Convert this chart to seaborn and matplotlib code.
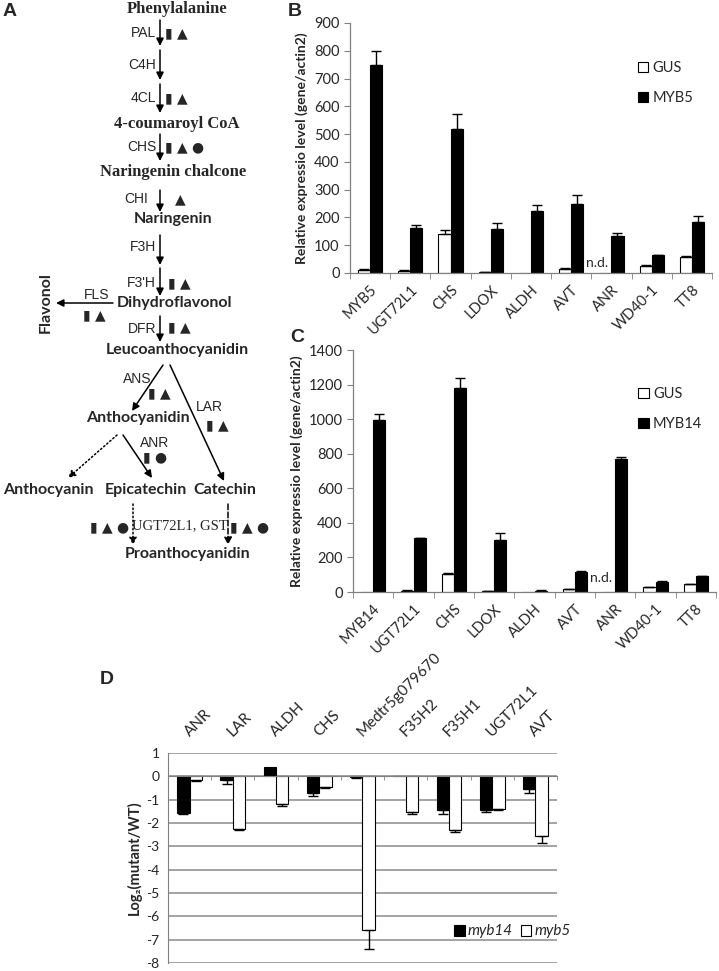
import matplotlib
matplotlib.use('Agg')
import matplotlib.pyplot as plt
import seaborn as sns
import pandas as pd

# panel B: GUS vs MYB5 overexpression
genes_b = ['MYB5', 'UGT72L1', 'CHS', 'LDOX', 'ALDH', 'AVT', 'ANR', 'WD40-1', 'TT8']
gus_b = [10, 8, 140, 3, 0, 15, 0, 25, 57]
gus_b_err = [3, 2, 15, 1, 0, 3, 0, 3, 5]
myb5_b = [750, 163, 517, 160, 222, 250, 133, 63, 185]
myb5_b_err = [50, 10, 56, 20, 22, 30, 12, 2, 20]

# panel C: GUS vs MYB14 overexpression
genes_c = ['MYB14', 'UGT72L1', 'CHS', 'LDOX', 'ALDH', 'AVT', 'ANR', 'WD40-1', 'TT8']
gus_c = [0, 8, 105, 3, 0, 18, 0, 28, 45]
gus_c_err = [0, 1, 3, 1, 0, 2, 0, 3, 3]
myb14_c = [993, 310, 1183, 300, 8, 117, 768, 58, 90]
myb14_c_err = [38, 5, 57, 43, 2, 4, 12, 3, 5]

# panel D: log2(mutant/WT)
genes_d = ['ANR', 'LAR', 'ALDH', 'CHS', 'Medtr5g079670', 'F35H2', 'F35H1', 'UGT72L1', 'AVT']
myb14_d = [-1.57, -0.17, 0.38, -0.70, -0.05, 0.03, -1.43, -1.45, -0.55]
myb14_d_err = [0.06, 0.18, 0, 0.13, 0.02, 0, 0.17, 0.07, 0.17]
myb5_d = [-0.17, -2.25, -1.20, -0.45, -6.60, -1.52, -2.28, -1.40, -2.55]
myb5_d_err = [0.02, 0.05, 0.07, 0.03, 0.80, 0.08, 0.12, 0.05, 0.30]

sns.set_style('white')
plt.rcParams['font.family'] = ['Lato', 'DejaVu Sans']
plt.rcParams['axes.unicode_minus'] = False

GREY = '#808080'


def make_df(genes, names, vals, errs):
    rows = []
    for name, v, e in zip(names, vals, errs):
        for g, vi, ei in zip(genes, v, e):
            rows.append({'gene': g, 'group': name, 'value': vi, 'err': ei})
    return pd.DataFrame(rows)


def add_errors(ax, df, names):
    # one-sided error bars, pointing away from zero
    for cont, name in zip(ax.containers, names):
        sub = df[df['group'] == name]
        for patch, (_, row) in zip(cont.patches, sub.iterrows()):
            if row['err'] == 0:
                continue
            x = patch.get_x() + patch.get_width() / 2
            y = row['value']
            yerr = [[0], [row['err']]] if y >= 0 else [[row['err']], [0]]
            ax.errorbar(x, y, yerr=yerr, fmt='none', ecolor='black',
                        elinewidth=1, capsize=3.5, capthick=1)


def expr_panel(ax, genes, names, vals, errs, ymax, step, leg_anchor, nd_y):
    df = make_df(genes, names, vals, errs)
    sns.barplot(data=df, x='gene', y='value', hue='group', hue_order=names,
                palette={names[0]: 'white', names[1]: 'black'}, width=0.6,
                edgecolor='black', linewidth=0.8, ax=ax, errorbar=None)
    add_errors(ax, df, names)
    ax.set_ylim(0, ymax)
    ax.set_yticks(range(0, ymax + 1, step))
    ax.set_xlim(-0.5, len(genes) - 0.5)
    ax.set_xlabel('')
    ax.set_ylabel('Relative expressio level (gene/actin2)', fontsize=10,
                  fontweight='bold', labelpad=4)
    ax.set_xticks(range(len(genes)))
    ax.set_xticklabels(genes, rotation=45, ha='right', rotation_mode='anchor',
                       fontsize=10.5)
    ax.set_xticks([i - 0.5 for i in range(len(genes) + 1)], minor=True)
    ax.tick_params(axis='x', which='major', length=0, pad=7)
    ax.tick_params(axis='x', which='minor', length=4, color=GREY, direction='out', bottom=True)
    ax.tick_params(axis='y', length=4, color=GREY, direction='out', left=True, labelsize=10.5)
    for s in ['top', 'right']:
        ax.spines[s].set_visible(False)
    for s in ['left', 'bottom']:
        ax.spines[s].set_color(GREY)
        ax.spines[s].set_linewidth(0.9)
    ax.text(genes.index('ANR') - 0.36, nd_y, 'n.d.', ha='center', va='center', fontsize=10)
    leg = ax.legend(loc='upper left', bbox_to_anchor=leg_anchor, frameon=False,
                    fontsize=10.5, handlelength=0.7, handleheight=0.7,
                    handletextpad=0.3, labelspacing=1.1)
    for h in leg.legend_handles:
        h.set_edgecolor('black')


fig = plt.figure(figsize=(7.19, 9.71), dpi=100)

# ---------- panel A: pathway diagram in pixel coordinates ----------
axa = fig.add_axes([0, 0, 1, 1])
axa.set_xlim(0, 719)
axa.set_ylim(971, 0)
axa.axis('off')

serif_b = dict(family='Liberation Serif', fontweight='bold', fontsize=12, ha='center', va='center')
sans_b = dict(family=['Lato', 'DejaVu Sans'], fontweight='bold', fontsize=11.5, ha='center', va='center')
enz = dict(family='Liberation Sans', fontsize=10, ha='right', va='center')
sym = dict(family='DejaVu Sans', fontsize=10, ha='left', va='center')

axa.text(177, 9, 'Phenylalanine', **serif_b)
axa.text(177, 124, '4-coumaroyl CoA', **serif_b)
axa.text(173, 172, 'Naringenin chalcone', **serif_b)
for txt, x, y in [('Naringenin', 173, 219), ('Dihydroflavonol', 175, 303),
                  ('Leucoanthocyanidin', 177, 350), ('Anthocyanidin', 138, 418),
                  ('Anthocyanin', 48, 490), ('Epicatechin', 146, 490),
                  ('Catechin', 225, 490), ('Proanthocyanidin', 188, 554)]:
    axa.text(x, y, txt, **sans_b)
axa.text(46, 303, 'Flavonol', rotation=90, **sans_b)
axa.text(180, 526, 'UGT72L1, GST', family='Liberation Serif', fontsize=10.5,
         ha='center', va='center')

for txt, x, y in [('PAL', 156, 33), ('C4H', 156, 65), ('4CL', 156, 98),
                  ('CHS', 157, 147), ('CHI', 148, 199), ('F3H', 156, 247),
                  ("F3'H", 156, 283), ('FLS', 109, 295), ('DFR', 156, 329),
                  ('ANS', 151, 379), ('LAR', 223, 407), ('ANR', 169, 443)]:
    axa.text(x, y, txt, **enz)

for txt, x, y in [('▮ ▲', 165, 33), ('▮ ▲', 165, 98), ('▮ ▲ ●', 165, 147),
                  ('▲', 175, 199), ('▮ ▲', 168, 283), ('▮ ▲', 83, 315),
                  ('▮ ▲', 168, 327), ('▮ ▲', 148, 393), ('▮ ▲', 206, 425),
                  ('▮ ●', 143, 457), ('▮ ▲ ●', 90, 527), ('▮ ▲ ●', 230, 527)]:
    axa.text(x, y, txt, **sym)

arrows = [((160, 20), (160, 46), '-'), ((160, 50), (160, 80), '-'),
          ((160, 84), (160, 113), '-'), ((160, 134), (160, 161), '-'),
          ((160, 190), (160, 212), '-'), ((160, 235), (160, 265), '-'),
          ((160, 268), (160, 296), '-'), ((113, 303), (56, 303), '-'),
          ((160, 316), (160, 342), '-'), ((163, 365), (132, 411), '-'),
          ((170, 365), (224, 481), '-'), ((117, 435), (68, 478), ':'),
          ((123, 435), (152, 478), '-'), ((133, 504), (133, 545), ':'),
          ((228, 504), (228, 545), '--')]
for start, end, ls in arrows:
    axa.annotate('', xy=end, xytext=start,
                 arrowprops=dict(arrowstyle='-|>', color='black', lw=1.1,
                                 linestyle=ls, mutation_scale=11,
                                 shrinkA=0, shrinkB=0))

axa.text(3, 12, 'A', fontsize=14, fontweight='bold', va='center', family='Liberation Sans')
axa.text(288, 11, 'B', fontsize=14, fontweight='bold', va='center', family='Liberation Sans')
axa.text(290, 337, 'C', fontsize=14, fontweight='bold', va='center', family='Liberation Sans')
axa.text(100, 679, 'D', fontsize=14, fontweight='bold', va='center', family='Liberation Sans')

# ---------- panel B ----------
axb = fig.add_axes([350 / 719, 1 - 273 / 971, 362 / 719, 250 / 971])
expr_panel(axb, genes_b, ['GUS', 'MYB5'], [gus_b, myb5_b], [gus_b_err, myb5_b_err],
           900, 100, (0.76, 0.9), 36)

# ---------- panel C ----------
axc = fig.add_axes([353 / 719, 1 - 592 / 971, 363 / 719, 242 / 971])
expr_panel(axc, genes_c, ['GUS', 'MYB14'], [gus_c, myb14_c], [gus_c_err, myb14_c_err],
           1400, 200, (0.75, 0.9), 81)

# ---------- panel D ----------
axd = fig.add_axes([168 / 719, 1 - 963 / 971, 389 / 719, 210 / 971])
df_d = make_df(genes_d, ['myb14', 'myb5'], [myb14_d, myb5_d], [myb14_d_err, myb5_d_err])
sns.barplot(data=df_d, x='gene', y='value', hue='group', hue_order=['myb14', 'myb5'],
            palette={'myb14': 'black', 'myb5': 'white'}, width=0.575,
            edgecolor='black', linewidth=0.8, ax=axd, errorbar=None)
add_errors(axd, df_d, ['myb14', 'myb5'])
# move the x axis line to zero first (this resets the ticks)
axd.spines['bottom'].set_position(('data', 0))
axd.spines['bottom'].set_color(GREY)
axd.spines['left'].set_color(GREY)
for s in ['top', 'right']:
    axd.spines[s].set_visible(False)
axd.set_ylim(-8, 1)
axd.set_yticks(range(-8, 2))
axd.set_xlim(-0.5, len(genes_d) - 0.5)
axd.set_axisbelow(True)
axd.yaxis.grid(True, color='#8a8a8a', lw=1.1)
axd.set_xlabel('')
axd.set_ylabel('Log₂(mutant/WT)', fontsize=10.5, fontweight='bold', labelpad=3)
axd.set_xticks(range(len(genes_d)))
axd.set_xticklabels(genes_d)
axd.set_xticks([i - 0.5 for i in range(len(genes_d) + 1)], minor=True)
axd.tick_params(axis='x', which='major', top=False, bottom=False,
                labeltop=True, labelbottom=False, pad=8)
axd.tick_params(axis='x', which='minor', bottom=True, length=3, color=GREY, direction='out')
axd.tick_params(axis='y', length=0, labelsize=10, pad=6)
for t in axd.xaxis.get_major_ticks():
    lab = t.label2
    lab.set_rotation(45)
    lab.set_rotation_mode('anchor')
    lab.set_ha('left')
    lab.set_va('baseline')
    lab.set_fontsize(11)
leg = axd.legend(loc='center left', bbox_to_anchor=(0.7, 0.15), frameon=False, ncol=2,
                 handlelength=0.7, handleheight=0.7, handletextpad=0.2,
                 columnspacing=0.5, prop={'style': 'italic', 'size': 11})
for h in leg.legend_handles:
    h.set_edgecolor('black')

plt.savefig('out.png', dpi=100)
